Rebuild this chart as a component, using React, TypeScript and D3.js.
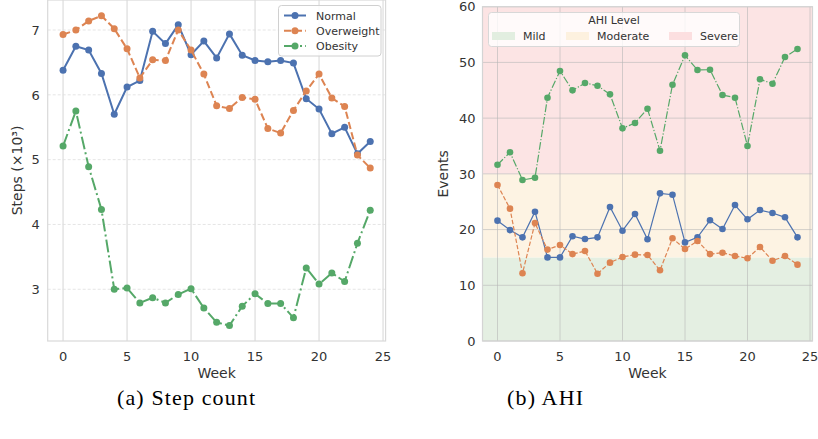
import React from "react";
import * as d3 from "d3";

const weeks = [0, 1, 2, 3, 4, 5, 6, 7, 8, 9, 10, 11, 12, 13, 14, 15, 16, 17, 18, 19, 20, 21, 22, 23, 24];
const seriesNames = ["Normal", "Overweight", "Obesity"];
const seriesColors = ["#4c72b0", "#dd8452", "#55a868"];

const stepsNormal = [6.38, 6.75, 6.69, 6.33, 5.70, 6.12, 6.22, 6.98, 6.79, 7.08, 6.62, 6.83, 6.57, 6.94, 6.61, 6.53, 6.51, 6.53, 6.49, 5.94, 5.78, 5.40, 5.50, 5.09, 5.28];
const stepsOverweight = [6.93, 7.00, 7.14, 7.22, 7.02, 6.71, 6.26, 6.54, 6.53, 7.00, 6.69, 6.32, 5.83, 5.79, 5.96, 5.93, 5.48, 5.41, 5.76, 6.06, 6.32, 5.95, 5.82, 5.07, 4.87];
const stepsObesity = [5.21, 5.75, 4.89, 4.23, 3.00, 3.02, 2.79, 2.87, 2.79, 2.92, 3.01, 2.71, 2.49, 2.44, 2.74, 2.93, 2.78, 2.78, 2.56, 3.33, 3.08, 3.25, 3.12, 3.71, 4.22];

const ahiNormal = [21.6, 19.9, 18.6, 23.2, 15.0, 15.0, 18.8, 18.3, 18.6, 24.05, 19.8, 22.8, 18.25, 26.5, 26.26, 17.7, 18.6, 21.66, 20.1, 24.4, 21.84, 23.5, 22.97, 22.2, 18.6];
const ahiOverweight = [28.0, 23.75, 12.15, 21.18, 16.4, 17.23, 15.6, 16.15, 12.08, 14.06, 15.08, 15.5, 15.43, 12.69, 18.43, 16.5, 17.95, 15.6, 15.85, 15.25, 14.84, 16.87, 14.4, 15.25, 13.7];
const ahiObesity = [31.64, 33.87, 28.9, 29.3, 43.67, 48.46, 44.99, 46.3, 45.82, 44.27, 38.17, 39.12, 41.69, 34.15, 46.0, 51.27, 48.63, 48.69, 44.15, 43.67, 35.0, 46.97, 46.18, 50.97, 52.4];

const weekTicks = [0, 5, 10, 15, 20, 25];
const stepTicks = [3, 4, 5, 6, 7];
const eventTicks = [0, 10, 20, 30, 40, 50, 60];

const ahiLevels = ["Mild", "Moderate", "Severe"];
const ahiBounds = [0, 15, 30, 60];
const ahiBandColors = ["#e4efe2", "#fdf3e3", "#fce4e4"];
const ahiPatchColors = ["#e2eee0", "#fdf1df", "#fcdfe0"];

const FONT = "'DejaVu Sans', sans-serif";
const SERIF = "'Liberation Serif', 'DejaVu Serif', serif";
const TXT = "#333333";

const stepsSeries = [stepsNormal, stepsOverweight, stepsObesity];
const ahiSeries = [ahiNormal, ahiOverweight, ahiObesity];

function dashFor(i: number, lw: number) {
  if (i === 0) return undefined;
  if (i === 1) return `${3.7 * lw} ${1.6 * lw}`;
  return `${6.4 * lw} ${1.6 * lw} ${1 * lw} ${1.6 * lw}`;
}

export default function App() {
  const L = { left: 47.7, right: 385.6, top: 0, bottom: 341 };
  const xL = d3.scaleLinear().domain([-1.2, 25.2]).range([L.left, L.right]);
  const yL = d3.scaleLinear().domain([2.202, 7.463]).range([L.bottom, L.top]);

  const R = { left: 482.5, right: 812.5, top: 6.7, bottom: 341 };
  const xR = d3.scaleLinear().domain([-1.2, 25.2]).range([R.left, R.right]);
  const yR = d3.scaleLinear().domain([0, 60]).range([R.bottom, R.top]);

  const lineL = d3.line<number>().x((_, i) => xL(weeks[i])).y((d) => yL(d));
  const lineR = d3.line<number>().x((_, i) => xR(weeks[i])).y((d) => yR(d));

  return (
    <svg width={818} height={439} style={{ position: "absolute", left: 0, top: 0, background: "#fff" }} fontFamily={FONT}>
      <defs>
        <clipPath id="clipL">
          <rect x={L.left} y={L.top} width={L.right - L.left} height={L.bottom - L.top} />
        </clipPath>
      </defs>

      {/* ---------- LEFT PANEL ---------- */}
      <g>
        {weekTicks.map((t) => (
          <line key={"lvx" + t} x1={xL(t)} x2={xL(t)} y1={L.top} y2={L.bottom} stroke="#d6d6d6" strokeWidth={1} />
        ))}
        {stepTicks.map((t) => (
          <line key={"lhy" + t} x1={L.left} x2={L.right} y1={yL(t)} y2={yL(t)} stroke="#dedede" strokeWidth={0.8} strokeDasharray="3 2" />
        ))}
        <rect x={L.left} y={L.top} width={L.right - L.left} height={L.bottom - L.top} fill="none" stroke="#d9d9d9" strokeWidth={1.2} />
        <g clipPath="url(#clipL)">
          {stepsSeries.map((s, i) => (
            <g key={"ls" + i}>
              <path d={lineL(s) || ""} fill="none" stroke={seriesColors[i]} strokeWidth={2} strokeDasharray={dashFor(i, 2)} />
              {s.map((v, j) => (
                <circle key={j} cx={xL(weeks[j])} cy={yL(v)} r={3.5} fill={seriesColors[i]} />
              ))}
            </g>
          ))}
        </g>
        {weekTicks.map((t) => (
          <text key={"lxt" + t} x={xL(t)} y={L.bottom + 19.5} fontSize={13} fill={TXT} textAnchor="middle">{t}</text>
        ))}
        {stepTicks.map((t) => (
          <text key={"lyt" + t} x={L.left - 8} y={yL(t) + 4.7} fontSize={13} fill={TXT} textAnchor="end">{t}</text>
        ))}
        <text x={(L.left + L.right) / 2} y={378} fontSize={14} fill={TXT} textAnchor="middle">Week</text>
        <text transform={`translate(22,${(L.top + L.bottom) / 2}) rotate(-90)`} fontSize={14} fill={TXT} textAnchor="middle">Steps (×10³)</text>

        <rect x={278.5} y={5.5} width={102.5} height={50.5} rx={3} fill="#ffffff" fillOpacity={0.85} stroke="#d0d0d0" strokeWidth={1} />
        {seriesNames.map((n, i) => {
          const yy = 15.5 + i * 15.2;
          return (
            <g key={"leg" + i}>
              <line x1={284} x2={306} y1={yy} y2={yy} stroke={seriesColors[i]} strokeWidth={2} strokeDasharray={dashFor(i, 2)} />
              <circle cx={295} cy={yy} r={3.5} fill={seriesColors[i]} />
              <text x={316} y={yy + 4} fontSize={11} fill={TXT}>{n}</text>
            </g>
          );
        })}
      </g>

      {/* ---------- RIGHT PANEL ---------- */}
      <g>
        {ahiLevels.map((lv, i) => (
          <rect key={"band" + lv} x={R.left} y={yR(ahiBounds[i + 1])} width={R.right - R.left} height={yR(ahiBounds[i]) - yR(ahiBounds[i + 1])} fill={ahiBandColors[i]} />
        ))}
        {weekTicks.map((t) => (
          <line key={"rvx" + t} x1={xR(t)} x2={xR(t)} y1={R.top} y2={R.bottom} stroke="#b8b8b8" strokeOpacity={0.6} strokeWidth={1} />
        ))}
        {eventTicks.map((t) => (
          <line key={"rhy" + t} x1={R.left} x2={R.right} y1={yR(t)} y2={yR(t)} stroke="#b8b8b8" strokeOpacity={0.6} strokeWidth={1} />
        ))}
        <rect x={R.left} y={R.top} width={R.right - R.left} height={R.bottom - R.top} fill="none" stroke="#d4d4d4" strokeWidth={1.2} />
        {ahiSeries.map((s, i) => (
          <g key={"rs" + i}>
            <path d={lineR(s) || ""} fill="none" stroke={seriesColors[i]} strokeWidth={1.2} strokeDasharray={dashFor(i, 1.2)} />
            {s.map((v, j) => (
              <circle key={j} cx={xR(weeks[j])} cy={yR(v)} r={3.3} fill={seriesColors[i]} />
            ))}
          </g>
        ))}
        {weekTicks.map((t) => (
          <text key={"rxt" + t} x={xR(t)} y={R.bottom + 19.5} fontSize={13} fill={TXT} textAnchor="middle">{t}</text>
        ))}
        {eventTicks.map((t) => (
          <text key={"ryt" + t} x={R.left - 7} y={yR(t) + 4.7} fontSize={13} fill={TXT} textAnchor="end">{t}</text>
        ))}
        <text x={(R.left + R.right) / 2} y={378} fontSize={14} fill={TXT} textAnchor="middle">Week</text>
        <text transform={`translate(448,${(R.top + R.bottom) / 2}) rotate(-90)`} fontSize={14} fill={TXT} textAnchor="middle">Events</text>

        <rect x={488.5} y={12.5} width={251} height={34} rx={3} fill="#ffffff" fillOpacity={0.8} stroke="#d8d8d8" strokeWidth={1} />
        <text x={614} y={24} fontSize={11} fill={TXT} textAnchor="middle">AHI Level</text>
        {ahiLevels.map((lv, i) => {
          const px = [492, 566, 669][i];
          return (
            <g key={"rleg" + lv}>
              <rect x={px} y={32} width={23} height={8} fill={ahiPatchColors[i]} />
              <text x={px + 31} y={40} fontSize={11} fill={TXT}>{lv}</text>
            </g>
          );
        })}
      </g>

      <text x={117} y={405} fontSize={22} fontFamily={SERIF} fill="#000" textLength={138} lengthAdjust="spacing">(a) Step count</text>
      <text x={507} y={405} fontSize={22} fontFamily={SERIF} fill="#000" textLength={76} lengthAdjust="spacing">(b) AHI</text>
    </svg>
  );
}
